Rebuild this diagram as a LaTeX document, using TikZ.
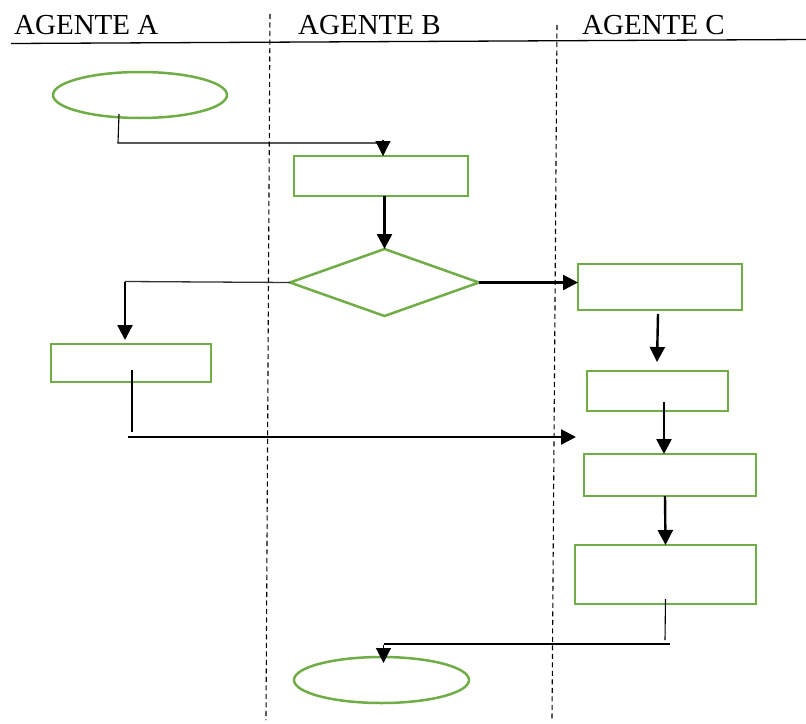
\documentclass[tikz,border=0pt]{standalone}
\usepackage{fontspec}
\setmainfont{Liberation Serif}
\usetikzlibrary{arrows.meta,shapes.geometric,calc}
\definecolor{boxgreen}{HTML}{70AD47}
\begin{document}
\begin{tikzpicture}[x=1pt,y=-1pt,
  flowshape/.style={draw=boxgreen, line width=2.5pt, inner sep=0pt, outer sep=0pt},
  box/.style={flowshape, rectangle},
  term/.style={flowshape, ellipse},
  lanehead/.style={anchor=base west, inner sep=0pt, font=\fontsize{29}{32}\selectfont},
  lane/.style={dash pattern=on 5pt off 3.5pt, line width=1.1pt},
  tip/.style={-{Triangle[length=15pt,width=15pt]}},
  thinline/.style={line width=1.1pt, black},
  heavyline/.style={line width=2.4pt},
]
\useasboundingbox (0,0) rectangle (806,723);

% lane headers
\node[lanehead] (ha) at (14,34) {AGENTE A};
\node[lanehead] (hb) at (298,34) {AGENTE B};
\node[lanehead] (hc) at (582,34) {AGENTE C};
\draw[line width=1.3pt] (11,43.5) -- (806,39.5);

% lane separators
\draw[lane] (270,14) -- (266,720);
\draw[lane] (557,25) -- (552,720);

% flow elements
\node[term, minimum width=174pt, minimum height=46pt] (s) at (140,95) {};
\node[box, minimum width=174pt, minimum height=40pt] (b1) at (381,176) {};
\node[diamond, flowshape, minimum width=189pt, minimum height=67pt] (d) at (384.5,282.5) {};
\node[box, minimum width=160pt, minimum height=38pt] (a2) at (131,363) {};
\node[box, minimum width=164pt, minimum height=46pt] (c1) at (660,287) {};
\node[box, minimum width=141pt, minimum height=40pt] (c2) at (657.5,391) {};
\node[box, minimum width=172pt, minimum height=42pt] (c3) at (670,475) {};
\node[box, minimum width=181pt, minimum height=59pt] (c4) at (665.5,574.5) {};
\node[term, minimum width=175pt, minimum height=46pt] (e) at (381.5,680) {};

% start -> first task
\coordinate (s-out) at (119,114);
\coordinate (s-turn) at (118,143);
\draw[thinline] (s-out) -- (s-turn) -- ([xshift=2pt]s-turn -| b1.north);
\draw[thinline, tip] ([xshift=2pt,yshift=16pt]b1.north) -- ([xshift=2pt]b1.north);

% first task -> decision
\draw[heavyline, tip] (b1.south -| d.north) -- (d.north);

% decision, left branch
\coordinate (d-turn) at (125,281.5);
\draw[line width=1.3pt, black!80] (d.west) -- (d-turn);
\draw[heavyline, tip] (d-turn) -- ([xshift=-6pt,yshift=4pt]a2.north);

% decision, right branch
\draw[heavyline, tip] (d.east) -- (d.east -| c1.west);

% left task -> merge point
\coordinate (a2-down) at (132,432);
\coordinate (a2-run) at (128,437);
\coordinate (join) at (576,437);
\draw[thinline] ([xshift=1pt,yshift=-7pt]a2.center) -- (a2-down);
\draw[heavyline, tip] (a2-run) -- (join);

% right lane chain
\draw[heavyline, tip] ([xshift=-2pt,yshift=-4pt]c1.south) -- ([xshift=-0.5pt,yshift=9pt]c2.north);
\draw[heavyline, tip] ([xshift=6.5pt,yshift=9pt]c2.south) -- ([xshift=-6pt]c3.north);
\draw[heavyline, tip] ([xshift=-5pt]c3.south) -- (c4.north);

% last task -> end
\coordinate (c4-down) at (665,640);
\coordinate (c4-turn) at (670,644);
\draw[thinline] ([yshift=5pt]c4.south) -- (c4-down);
\draw[thinline] (c4-turn) -- ([xshift=2pt]c4-turn -| e.north);
\draw[thinline, tip] ([xshift=2pt,yshift=12pt]e.north) -- ([xshift=2pt,yshift=-6pt]e.north);
\end{tikzpicture}
\end{document}
